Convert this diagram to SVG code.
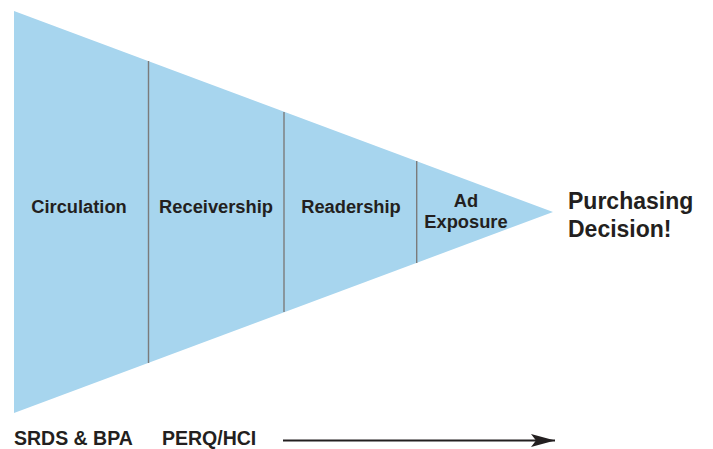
<svg xmlns="http://www.w3.org/2000/svg" width="713" height="449" viewBox="0 0 713 449">
  <style>
    .lbl { font-family: "Liberation Sans", Arial, sans-serif; font-weight: bold; fill: #231f20; }
    .stage { font-size: 18.3px; text-anchor: middle; }
    .big { font-size: 23px; }
    .foot { font-size: 19.5px; }
    .div { stroke: #7b7b7b; stroke-width: 1.4; }
  </style>
  <defs>
    <marker id="head" markerWidth="25" markerHeight="13" refX="24" refY="6.5" orient="auto" markerUnits="userSpaceOnUse">
      <path d="M0,0 L24,6.5 L0,13 L5,6.5 Z" fill="#231f20"/>
    </marker>
  </defs>

  <!-- funnel -->
  <g id="funnel">
    <polygon points="14,11 553,212 14,413" fill="#a7d5ee"/>
  </g>

  <g id="connectors">
    <line class="div" x1="148.5" y1="61" x2="148.5" y2="363"/>
    <line class="div" x1="284" y1="112" x2="284" y2="312"/>
    <line class="div" x1="416.7" y1="161" x2="416.7" y2="263"/>
    <line x1="283" y1="440.5" x2="555" y2="440.5" stroke="#231f20" stroke-width="2" marker-end="url(#head)"/>
  </g>

  <g id="circulation"><text class="lbl stage" x="79" y="213">Circulation</text></g>
  <g id="receivership"><text class="lbl stage" x="216" y="213">Receivership</text></g>
  <g id="readership"><text class="lbl stage" x="351" y="213">Readership</text></g>
  <g id="ad-exposure">
    <text class="lbl stage" x="466" y="207">Ad</text>
    <text class="lbl stage" x="466" y="228">Exposure</text>
  </g>
  <g id="purchasing-decision">
    <text class="lbl big" x="568" y="209">Purchasing</text>
    <text class="lbl big" x="568" y="237">Decision!</text>
  </g>
  <g id="srds-bpa"><text class="lbl foot" x="14" y="445">SRDS &amp; BPA</text></g>
  <g id="perq-hci"><text class="lbl foot" x="162" y="445">PERQ/HCI</text></g>
</svg>
